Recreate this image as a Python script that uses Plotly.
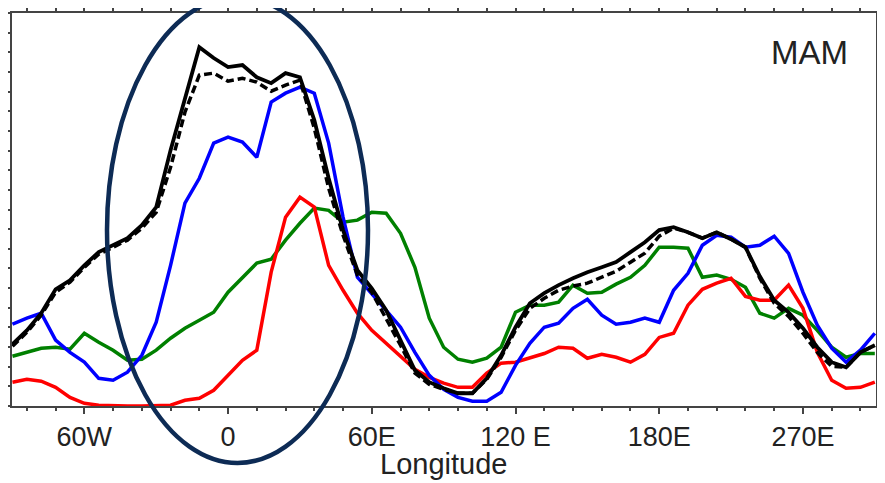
import plotly.graph_objects as go

lon = [-90, -84, -78, -72, -66, -60, -54, -48, -42, -36, -30, -24, -18, -12, -6,
       0, 6, 12, 18, 24, 30, 36, 42, 48, 54, 60, 66, 72, 78, 84, 90, 96, 102, 108,
       114, 120, 126, 132, 138, 144, 150, 156, 162, 168, 174, 180, 186, 192, 198,
       204, 210, 216, 222, 228, 234, 240, 246, 252, 258, 264, 270]

black_solid = [3.14, 3.85, 4.72, 5.94, 6.40, 7.16, 7.83, 8.18, 8.54, 9.20, 10.12, 13.02, 15.72, 18.26, 17.71,
               17.25, 17.35, 16.73, 16.43, 16.94, 16.73, 14.55, 11.59, 8.95, 6.91, 5.99, 4.87, 3.35, 1.82, 1.21,
               0.90, 0.65, 0.65, 1.41, 2.58, 4.01, 5.23, 5.74, 6.15, 6.50, 6.81, 7.06, 7.32, 7.83, 8.33,
               8.95, 9.10, 8.84, 8.54, 8.84, 8.49, 8.08, 6.60, 5.38, 4.77, 3.96, 2.99, 2.23, 1.97, 2.73, 3.09]

black_dashed = [3.04, 3.75, 4.62, 5.79, 6.30, 7.06, 7.72, 8.08, 8.44, 9.05, 9.86, 12.15, 14.95, 16.84, 16.94,
                16.53, 16.68, 16.48, 16.02, 16.33, 16.58, 14.14, 11.08, 8.69, 6.66, 5.79, 4.47, 3.09, 1.67, 1.10,
                0.85, 0.65, 0.65, 1.36, 2.48, 3.85, 4.97, 5.48, 5.89, 6.10, 6.25, 6.55, 6.86, 7.32, 7.78,
                8.64, 9.05, 8.84, 8.54, 8.84, 8.49, 8.08, 6.50, 5.23, 4.56, 3.70, 2.73, 2.02, 1.97, 2.73, 3.09]

blue = [4.16, 4.47, 4.72, 3.35, 2.73, 2.23, 1.41, 1.31, 1.72, 2.58, 4.26, 7.16, 10.32, 11.59, 13.38,
        13.68, 13.43, 12.66, 15.47, 15.92, 16.23, 15.92, 13.38, 9.61, 6.55, 5.74, 4.87, 4.01, 2.73, 1.56,
        0.85, 0.44, 0.24, 0.24, 0.70, 2.07, 3.19, 4.01, 4.21, 4.97, 5.43, 4.62, 4.16, 4.26, 4.47,
        4.26, 5.89, 6.75, 8.18, 8.69, 8.59, 8.08, 8.18, 8.64, 7.77, 5.79, 4.11, 2.94, 2.23, 2.84, 3.70]

green = [2.53, 2.73, 2.94, 2.99, 2.89, 3.70, 3.24, 2.84, 2.33, 2.38, 2.84, 3.45, 3.96, 4.36, 4.77,
         5.79, 6.55, 7.27, 7.47, 8.44, 9.30, 10.07, 9.96, 9.35, 9.46, 9.86, 9.81, 8.79, 7.06, 4.47,
         2.99, 2.38, 2.23, 2.43, 2.99, 4.77, 5.13, 5.13, 5.28, 6.15, 5.74, 5.79, 6.20, 6.55, 7.16,
         8.08, 8.08, 8.03, 6.55, 6.66, 6.45, 6.04, 4.72, 4.47, 4.97, 4.62, 3.85, 2.99, 2.48, 2.67, 2.67]

red = [1.21, 1.36, 1.26, 0.95, 0.44, 0.14, 0.04, 0.0, 0.0, 0.0, 0.0, 0.04, 0.29, 0.39, 0.80,
       1.56, 2.33, 2.84, 6.81, 9.61, 10.63, 10.12, 7.16, 5.89, 4.72, 3.85, 3.19, 2.48, 1.87, 1.46,
       1.16, 0.95, 0.95, 1.67, 2.18, 2.23, 2.43, 2.67, 2.99, 2.94, 2.43, 2.63, 2.48, 2.23, 2.63,
       3.49, 3.70, 5.13, 5.94, 6.25, 6.50, 5.58, 5.38, 5.38, 6.15, 4.97, 2.73, 1.31, 0.90, 0.95, 1.21]

tick_vals = [-60, 0, 60, 120, 180, 240]
tick_text = ["60W", "0", "60E", "120 E", "180E", "270E"]

FONT = "Liberation Sans, Arial, Helvetica, sans-serif"

fig = go.Figure()
fig.add_trace(go.Scatter(x=lon, y=green, mode="lines", line=dict(color="#008000", width=3.5), showlegend=False))
fig.add_trace(go.Scatter(x=lon, y=red, mode="lines", line=dict(color="#ff0000", width=3.5), showlegend=False))
fig.add_trace(go.Scatter(x=lon, y=blue, mode="lines", line=dict(color="#0000ff", width=3.5), showlegend=False))
fig.add_trace(go.Scatter(x=lon, y=black_dashed, mode="lines",
                         line=dict(color="#000000", width=3.5, dash="8px,4px"), showlegend=False))
fig.add_trace(go.Scatter(x=lon, y=black_solid, mode="lines", line=dict(color="#000000", width=3.8), showlegend=False))

axis_common = dict(showgrid=False, zeroline=False, showline=True, linecolor="#444444", linewidth=2,
                   ticks="outside", tickcolor="#444444", mirror="ticks", automargin=False)

fig.update_xaxes(range=[-90.2, 270.5], tickmode="array", tickvals=tick_vals, ticktext=tick_text,
                 ticklen=6, tickwidth=1.5, ticklabelstandoff=0,
                 minor=dict(tickmode="linear", tick0=0, dtick=12, ticklen=3, tickcolor="#444444", ticks="outside"),
                 tickfont=dict(family=FONT, size=27, color="#222222"),
                 **axis_common)
fig.update_yaxes(range=[0, 20], tickmode="linear", tick0=0, dtick=5, ticklen=6, tickwidth=1.5,
                 showticklabels=False,
                 minor=dict(tickmode="linear", tick0=0, dtick=1, ticklen=3, tickcolor="#444444", ticks="outside"),
                 **axis_common)

# highlight ellipse (drawn in paper space so it may extend past the axes)
fig.add_shape(type="circle", xref="paper", yref="paper",
              x0=(107 - 12) / 864, x1=(368 - 12) / 864,
              y0=(406 - 463) / 393, y1=(406 - (-3)) / 393,
              line=dict(color="#0d2b55", width=4.5), layer="above")

fig.add_annotation(text="MAM", xref="paper", yref="paper", x=(809 - 12) / 864, y=(406 - 52) / 393,
                   showarrow=False, font=dict(family=FONT, size=33, color="#222222"),
                   xanchor="center", yanchor="middle")

fig.add_annotation(text="Longitude", xref="paper", yref="paper", x=(443 - 12) / 864, y=(406 - 464) / 393,
                   showarrow=False, font=dict(family=FONT, size=29, color="#222222"),
                   xanchor="center", yanchor="middle")

# the page body adds an 8px offset; the figure is sized so the plot area lands where the reference's does
fig.update_layout(width=877, height=475, margin=dict(l=4, r=9, t=5, b=77),
                  paper_bgcolor="white", plot_bgcolor="white")

fig.write_html("out.html")
